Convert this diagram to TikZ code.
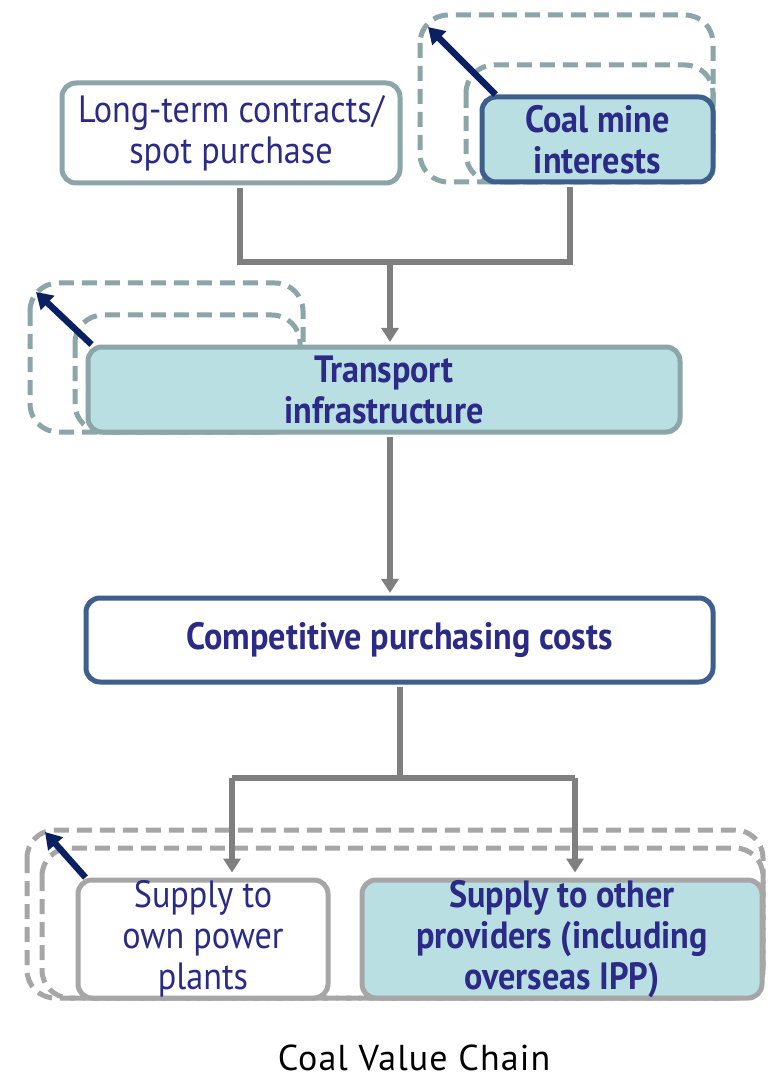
\documentclass[tikz,border=0pt]{standalone}
\usepackage{fontspec}
\setmainfont[FakeStretch=0.9]{PT Sans}
\newfontfamily\capfont[LetterSpace=3]{PT Sans}
\usetikzlibrary{arrows.meta}
\definecolor{txt}{HTML}{2B2A87}
\definecolor{tealgray}{HTML}{8BA5A8}
\definecolor{dblue}{HTML}{3E5F8C}
\definecolor{lteal}{HTML}{B9DFE2}
\definecolor{midgray}{HTML}{A6A6A6}
\definecolor{conng}{HTML}{7F7F7F}
\definecolor{navy}{HTML}{0B2060}
\tikzset{
  box/.style={rectangle, rounded corners=7pt, line width=2.5pt, text=txt, align=center, font=\fontsize{19}{20.5}\selectfont, inner sep=0pt},
  boldbox/.style={box, font=\fontsize{19}{20.5}\selectfont\bfseries},
  dashbox/.style={line width=2.5pt, rounded corners=14pt, dash pattern=on 7.5pt off 4pt},
  conn/.style={draw=conng, line width=3pt},
  connarrow/.style={conn, -{Triangle[width=8.5pt,length=7pt]}},
  navyarrow/.style={draw=navy, line width=3.2pt, -{Triangle[width=9.5pt,length=8pt]}}
}
\begin{document}
\begin{tikzpicture}[x=0.5pt,y=-0.5pt]
\useasboundingbox (0,0) rectangle (769,1080);
% dashed frames
\draw[dashbox, tealgray] (420,15) rectangle (713,182);
\draw[dashbox, tealgray] (466,65) rectangle (713,182);
\draw[dashbox, tealgray] (30,283) rectangle (303,432);
\draw[dashbox, tealgray] (75,315) rectangle (300,432);
\draw[dashbox, midgray] (27,830) rectangle (763,998);
\draw[dashbox, midgray] (42,848) rectangle (763,998);
% boxes
\node[box, draw=tealgray, fill=white, minimum width=169pt, minimum height=50pt] (lt) at (231,133) {Long-term contracts/\\spot purchase};
\node[boldbox, draw=dblue, fill=lteal, minimum width=115.5pt, minimum height=42.5pt] (coal) at (597.5,139.5) {Coal mine\\interests};
\node[boldbox, draw=tealgray, fill=lteal, minimum width=296pt, minimum height=42.5pt] (trans) at (384,389.5) {Transport\\infrastructure};
\node[boldbox, draw=dblue, fill=white, minimum width=313.5pt, minimum height=42pt] (comp) at (399.5,640) {Competitive purchasing costs};
\node[box, draw=midgray, fill=white, minimum width=125pt, minimum height=59pt] (own) at (203,939) {Supply to\\own power\\plants};
\node[boldbox, draw=midgray, fill=lteal, minimum width=200pt, minimum height=59pt] (other) at (562,939) {Supply to other\\providers (including\\overseas IPP)};
\node[font=\capfont\fontsize{18}{20}\selectfont, text=black, inner sep=0pt, anchor=base] (cap) at (414,1070) {Coal Value Chain};
% navy arrows
\coordinate (ca) at (428,27);
\coordinate (ta) at (36,292);
\coordinate (ba) at (45,832);
\draw[navyarrow] ([xshift=8pt]coal.north west) -- (ca);
\draw[navyarrow] ([xshift=3pt]trans.north west) -- (ta);
\draw[navyarrow] ([xshift=5pt]own.north west) -- (ba);
% connectors
\coordinate (jl) at (240,262);
\coordinate (jr) at (570,262);
\coordinate (jt) at (390,262);
\draw[conn] ([yshift=-1.25pt]lt.south -| jl) -- (jl) -- (jr) -- ([yshift=-1.25pt]coal.south -| jr);
\draw[connarrow] (jt) -- ([yshift=1.3pt]trans.north -| jt);
\coordinate (jt2) at (390,500);
\draw[connarrow] ([yshift=-1.25pt]trans.south -| jt2) -- ([yshift=1.3pt]comp.north -| jt2);
\coordinate (jm) at (400,778);
\coordinate (jbl) at (232,778);
\coordinate (jbr) at (575,778);
\draw[conn] ([yshift=-1.25pt]comp.south -| jm) -- (jm);
\draw[conn] (jbl) -- (jbr);
\draw[connarrow] (jbl) -- ([yshift=2.5pt]own.north -| jbl);
\draw[connarrow] (jbr) -- ([yshift=2.5pt]other.north -| jbr);
\end{tikzpicture}
\end{document}
